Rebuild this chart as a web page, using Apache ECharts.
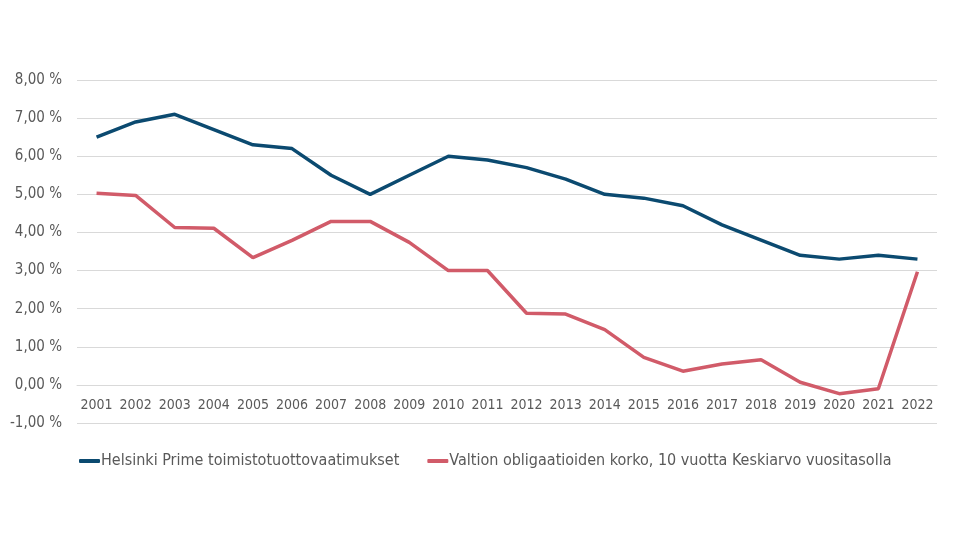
<!DOCTYPE html>
<html><head><meta charset="utf-8">
<script src="https://cdn.jsdelivr.net/npm/echarts@6/dist/echarts.min.js"></script>
<style>html,body{margin:0;padding:0;background:#fff}#c{width:955px;height:538px}</style>
</head><body><div id="c"></div>
<script>
var years = ['2001','2002','2003','2004','2005','2006','2007','2008','2009','2010','2011','2012','2013','2014','2015','2016','2017','2018','2019','2020','2021','2022'];
var helsinkiPrime = [6.5,6.9,7.1,6.7,6.3,6.2,5.5,5.0,5.5,6.0,5.9,5.7,5.4,5.0,4.9,4.7,4.2,3.8,3.4,3.3,3.4,3.3];
var valtionKorko = [5.03,4.97,4.13,4.11,3.34,3.79,4.29,4.29,3.74,3.0,3.0,1.88,1.86,1.45,0.72,0.36,0.55,0.66,0.07,-0.23,-0.1,2.97];
var seriesNames = ['Helsinki Prime toimistotuottovaatimukset','Valtion obligaatioiden korko, 10 vuotta Keskiarvo vuositasolla'];
var font = 'DejaVu Sans Condensed';
var chart = echarts.init(document.getElementById('c'));
chart.setOption({
  animation:false,
  textStyle:{fontFamily:font},
  grid:{left:77,right:18,top:80,bottom:115,containLabel:false},
  legend:{left:74,top:448,itemWidth:21,itemHeight:4,itemGap:28,icon:'roundRect',
    textStyle:{fontFamily:font,fontSize:16,color:'#595959',padding:[0,0,0,-4]},
    data:seriesNames},
  xAxis:{type:'category',data:years,boundaryGap:true,offset:-38,
    axisLine:{show:true,onZero:false,lineStyle:{color:'#d9d9d9',width:1}},
    axisTick:{show:false},
    axisLabel:{color:'#595959',fontSize:14,fontFamily:font,margin:13,interval:0}},
  yAxis:{type:'value',min:-1,max:8,interval:1,
    axisLine:{show:false},axisTick:{show:false},
    splitLine:{lineStyle:{color:'#d9d9d9',width:1}},
    axisLabel:{color:'#595959',fontSize:15,fontFamily:font,margin:15,
      formatter:function(v){return v.toFixed(2).replace('.',',')+' %';}}},
  series:[
    {name:seriesNames[0],type:'line',data:helsinkiPrime,showSymbol:false,symbol:'none',
      lineStyle:{color:'#0b4a70',width:3.5},itemStyle:{color:'#0b4a70'}},
    {name:seriesNames[1],type:'line',data:valtionKorko,showSymbol:false,symbol:'none',
      lineStyle:{color:'#d15b69',width:3.5},itemStyle:{color:'#d15b69'}}
  ]
});
</script></body></html>
